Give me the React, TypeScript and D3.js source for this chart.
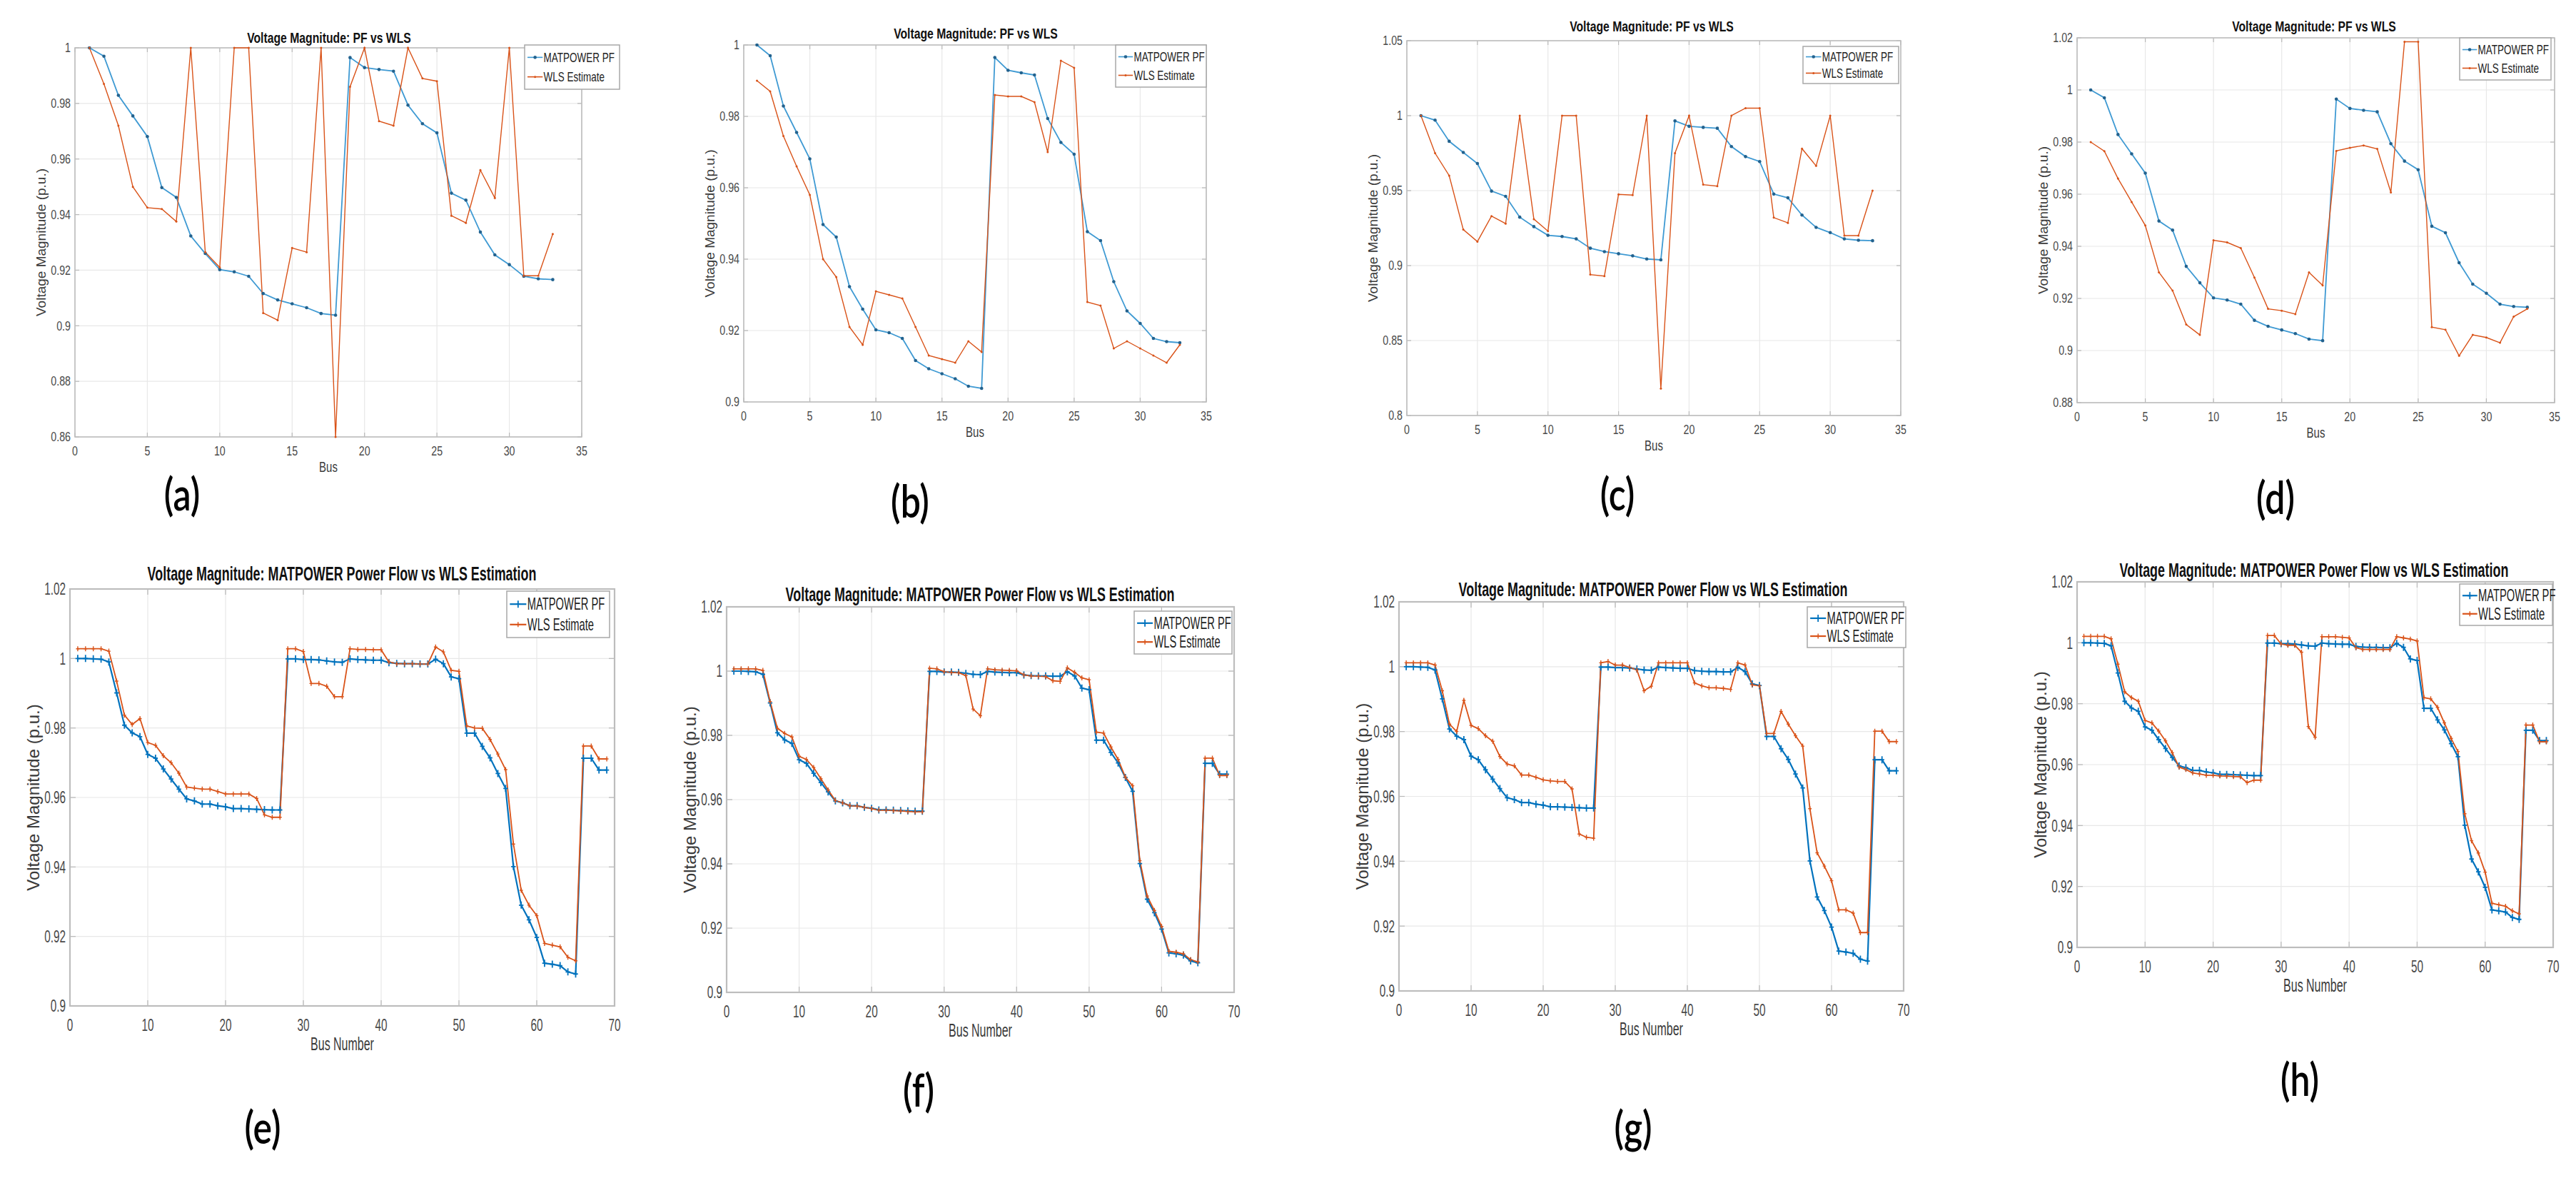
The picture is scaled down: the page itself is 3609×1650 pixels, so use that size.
import React from "react";
import * as d3 from "d3";

// ---------- DATA ----------
const pf33 = [1.0, 0.997, 0.9829, 0.9755, 0.9681, 0.9497, 0.9462, 0.9323, 0.926, 0.9202, 0.9194, 0.9178, 0.9116, 0.9093, 0.9079, 0.9065, 0.9044, 0.9038, 0.9965, 0.9929, 0.9922, 0.9916, 0.9794, 0.9727, 0.9694, 0.9477, 0.9452, 0.9337, 0.9255, 0.922, 0.9178, 0.9169, 0.9166];
const wlsA = [1.0, 0.987, 0.972, 0.95, 0.9425, 0.942, 0.9375, 1.0, 0.9265, 0.921, 1.0, 1.0, 0.9046, 0.902, 0.928, 0.9265, 1.0, 0.86, 0.986, 1.0, 0.9736, 0.972, 1.0, 0.989, 0.988, 0.9396, 0.937, 0.956, 0.946, 1.0, 0.918, 0.918, 0.933];
const wlsB = [0.99, 0.987, 0.9745, 0.966, 0.958, 0.94, 0.935, 0.921, 0.916, 0.931, 0.93, 0.929, 0.921, 0.913, 0.912, 0.911, 0.917, 0.914, 0.986, 0.9856, 0.9856, 0.984, 0.97, 0.9956, 0.9936, 0.928, 0.927, 0.915, 0.917, 0.915, 0.913, 0.911, 0.916];
const wlsC = [1.0, 0.975, 0.96, 0.924, 0.916, 0.933, 0.928, 1.0, 0.931, 0.923, 1.0, 1.0, 0.894, 0.893, 0.9475, 0.947, 1.0, 0.818, 0.975, 1.0, 0.954, 0.953, 1.0, 1.005, 1.005, 0.932, 0.9285, 0.978, 0.9665, 1.0, 0.92, 0.92, 0.95];
const wlsD = [0.98, 0.9765, 0.966, 0.957, 0.948, 0.93, 0.923, 0.91, 0.906, 0.9423, 0.9415, 0.9393, 0.928, 0.916, 0.9153, 0.914, 0.93, 0.925, 0.9766, 0.9778, 0.9787, 0.9774, 0.9607, 1.0185, 1.0185, 0.909, 0.908, 0.898, 0.906, 0.905, 0.903, 0.913, 0.916];

const pf69 = [1.0, 1.0, 0.9999, 0.9998, 0.999, 0.9901, 0.9808, 0.9786, 0.9775, 0.9724, 0.9713, 0.9682, 0.9653, 0.9624, 0.9596, 0.959, 0.9581, 0.9581, 0.9576, 0.9573, 0.9568, 0.9568, 0.9567, 0.9566, 0.9565, 0.9564, 0.9564, 0.9999, 0.9999, 0.9997, 0.9997, 0.9996, 0.9993, 0.999, 0.9989, 0.9999, 0.9997, 0.9996, 0.9995, 0.9995, 0.9988, 0.9986, 0.9985, 0.9985, 0.9984, 0.9984, 0.9998, 0.9985, 0.9947, 0.9942, 0.9785, 0.9785, 0.9747, 0.9714, 0.9669, 0.9626, 0.9401, 0.929, 0.9248, 0.9197, 0.9123, 0.912, 0.9116, 0.9098, 0.9092, 0.9713, 0.9713, 0.9679, 0.9679];
const wlsE = [1.0028, 1.0028, 1.0028, 1.0028, 1.0021, 0.9935, 0.9837, 0.981, 0.9827, 0.9758, 0.975, 0.972, 0.97, 0.967, 0.963, 0.9627, 0.9624, 0.9624, 0.9617, 0.961, 0.961, 0.961, 0.961, 0.9597, 0.955, 0.9543, 0.9543, 1.0028, 1.0028, 1.002, 0.9928, 0.9928, 0.992, 0.989, 0.989, 1.0028, 1.0026, 1.0026, 1.0025, 1.0025, 0.999, 0.9985, 0.9985, 0.9985, 0.9984, 0.9984, 1.0033, 1.0019, 0.9966, 0.9963, 0.9806, 0.98, 0.9799, 0.9767, 0.9725, 0.968, 0.9466, 0.9333, 0.929, 0.926, 0.918, 0.9175, 0.917, 0.914, 0.913, 0.9748, 0.9748, 0.9711, 0.9711];
const wlsF = [1.0007, 1.0007, 1.0007, 1.0007, 1.0002, 0.9905, 0.9822, 0.9806, 0.9795, 0.9735, 0.9725, 0.97, 0.9665, 0.963, 0.9597, 0.959, 0.9581, 0.958, 0.9576, 0.9572, 0.9567, 0.9567, 0.9566, 0.9565, 0.9563, 0.9562, 0.9562, 1.0009, 1.0007, 0.9998, 0.9996, 0.9995, 0.9986, 0.9882, 0.9861, 1.0007, 1.0004, 1.0003, 1.0002, 1.0001, 0.9988, 0.9985, 0.9984, 0.9983, 0.997, 0.9968, 1.001, 0.9996, 0.9979, 0.9973, 0.981, 0.9807, 0.9764, 0.9725, 0.967, 0.9643, 0.941, 0.93, 0.9255, 0.9205, 0.9128, 0.9125, 0.912, 0.9102, 0.9095, 0.9729, 0.9729, 0.9675, 0.9675];
const wlsG = [1.0012, 1.0012, 1.0012, 1.0012, 1.0005, 0.9926, 0.9823, 0.98, 0.9896, 0.9819, 0.9809, 0.9787, 0.977, 0.9723, 0.97, 0.9694, 0.9666, 0.9666, 0.9659, 0.9651, 0.9648, 0.9646, 0.9646, 0.9623, 0.9484, 0.9474, 0.9471, 1.0012, 1.0016, 1.0005, 1.0005, 0.9998, 0.999, 0.9926, 0.994, 1.0012, 1.0012, 1.0012, 1.0012, 1.0012, 0.995, 0.9941, 0.9935, 0.9935, 0.9933, 0.993, 1.0012, 1.0005, 0.9944, 0.9941, 0.9794, 0.9794, 0.9862, 0.9823, 0.9787, 0.9755, 0.9562, 0.9426, 0.9385, 0.934, 0.925, 0.925, 0.924, 0.918, 0.918, 0.9801, 0.9801, 0.9769, 0.9769];
const wlsH = [1.0021, 1.0021, 1.0021, 1.0021, 1.0013, 0.993, 0.9839, 0.982, 0.9808, 0.9745, 0.9737, 0.971, 0.9678, 0.9639, 0.9592, 0.9584, 0.9573, 0.9569, 0.9565, 0.9565, 0.9563, 0.9562, 0.9561, 0.956, 0.9541, 0.9549, 0.9549, 1.0024, 1.0024, 0.9996, 0.9992, 0.9992, 0.9969, 0.9725, 0.969, 1.002, 1.002, 1.002, 1.0018, 1.0016, 0.9984, 0.9978, 0.9978, 0.9978, 0.9978, 0.9978, 1.002, 1.0016, 1.0012, 1.0006, 0.982, 0.9816, 0.9788, 0.9737, 0.9686, 0.9643, 0.9439, 0.935, 0.931, 0.9247, 0.9145, 0.914, 0.9135, 0.912, 0.911, 0.973, 0.973, 0.9675, 0.9675];

const yTicksA = [0.86, 0.88, 0.9, 0.92, 0.94, 0.96, 0.98, 1];
const yTicksB = [0.9, 0.92, 0.94, 0.96, 0.98, 1];
const yTicksC = [0.8, 0.85, 0.9, 0.95, 1, 1.05];
const yTicksD = [0.88, 0.9, 0.92, 0.94, 0.96, 0.98, 1, 1.02];
const yTicksBottom = [0.9, 0.92, 0.94, 0.96, 0.98, 1, 1.02];
const xTicksTop = [0, 5, 10, 15, 20, 25, 30, 35];
const xTicksBottom = [0, 10, 20, 30, 40, 50, 60, 70];

const titleTop = "Voltage Magnitude: PF vs WLS";
const titleBottom = "Voltage Magnitude: MATPOWER Power Flow vs WLS Estimation";
const legendNames = ["MATPOWER PF", "WLS Estimate"];
const panelLetters = ["(a)", "(b)", "(c)", "(d)", "(e)", "(f)", "(g)", "(h)"];

// ---------- LAYOUT ----------
type Cfg = {
  id: string; pf: number[]; wls: number[]; yDomain: [number, number]; yTicks: number[];
  xMax: number; xTicks: number[]; title: string; xlabel: string; top: boolean;
  left: number; right: number; topY: number; bottom: number;
  titleX: number; titleY: number; legend: [number, number, number, number];
  letter: string; letterX: number; letterY: number;
};

const panels: Cfg[] = [
  { id: "a", pf: pf33, wls: wlsA, yDomain: [0.86, 1], yTicks: yTicksA, xMax: 35, xTicks: xTicksTop, title: titleTop, xlabel: "Bus", top: true,
    left: 105, right: 815, topY: 67, bottom: 612, titleX: 461, titleY: 53, legend: [735, 63, 868, 125], letter: panelLetters[0], letterX: 255, letterY: 690 },
  { id: "b", pf: pf33, wls: wlsB, yDomain: [0.9, 1], yTicks: yTicksB, xMax: 35, xTicks: xTicksTop, title: titleTop, xlabel: "Bus", top: true,
    left: 1042, right: 1690, topY: 63, bottom: 563, titleX: 1367, titleY: 47, legend: [1563, 63, 1690, 122], letter: panelLetters[1], letterX: 1275, letterY: 700 },
  { id: "c", pf: pf33, wls: wlsC, yDomain: [0.8, 1.05], yTicks: yTicksC, xMax: 35, xTicks: xTicksTop, title: titleTop, xlabel: "Bus", top: true,
    left: 1971, right: 2663, topY: 57, bottom: 582, titleX: 2314, titleY: 37, legend: [2526, 65, 2660, 117], letter: panelLetters[2], letterX: 2266, letterY: 690 },
  { id: "d", pf: pf33, wls: wlsD, yDomain: [0.88, 1.02], yTicks: yTicksD, xMax: 35, xTicks: xTicksTop, title: titleTop, xlabel: "Bus", top: true,
    left: 2910, right: 3579, topY: 53, bottom: 564, titleX: 3242, titleY: 37, legend: [3446, 53, 3574, 112], letter: panelLetters[3], letterX: 3188, letterY: 695 },
  { id: "e", pf: pf69, wls: wlsE, yDomain: [0.9, 1.02], yTicks: yTicksBottom, xMax: 70, xTicks: xTicksBottom, title: titleBottom, xlabel: "Bus Number", top: false,
    left: 98, right: 861, topY: 825, bottom: 1409, titleX: 479, titleY: 803, legend: [710, 828, 854, 893], letter: panelLetters[4], letterX: 368, letterY: 1577 },
  { id: "f", pf: pf69, wls: wlsF, yDomain: [0.9, 1.02], yTicks: yTicksBottom, xMax: 70, xTicks: xTicksBottom, title: titleBottom, xlabel: "Bus Number", top: false,
    left: 1018, right: 1729, topY: 850, bottom: 1390, titleX: 1373, titleY: 832, legend: [1589, 856, 1726, 916], letter: panelLetters[5], letterX: 1287, letterY: 1525 },
  { id: "g", pf: pf69, wls: wlsG, yDomain: [0.9, 1.02], yTicks: yTicksBottom, xMax: 70, xTicks: xTicksBottom, title: titleBottom, xlabel: "Bus Number", top: false,
    left: 1960, right: 2667, topY: 843, bottom: 1388, titleX: 2316, titleY: 825, legend: [2532, 850, 2670, 907], letter: panelLetters[6], letterX: 2288, letterY: 1577 },
  { id: "h", pf: pf69, wls: wlsH, yDomain: [0.9, 1.02], yTicks: yTicksBottom, xMax: 70, xTicks: xTicksBottom, title: titleBottom, xlabel: "Bus Number", top: false,
    left: 2910, right: 3577, topY: 815, bottom: 1327, titleX: 3242, titleY: 798, legend: [3446, 818, 3576, 876], letter: panelLetters[7], letterX: 3222, letterY: 1510 },
];

const FONT = "'Liberation Sans', Arial, Helvetica, sans-serif";
const BLUE_TOP = "#3f9ad3";
const BLUE_TOP_MK = "#23628e";
const BLUE = "#0072BD";
const ORANGE = "#D95319";

const fmt = (v: number) => String(+v.toFixed(2));

function SText(props: {
  x: number; y: number; sx: number; size: number; anchor?: string; weight?: string | number;
  rotate?: number; fill?: string; children: React.ReactNode; family?: string;
}) {
  const { x, y, sx, size, anchor = "middle", weight = "normal", rotate, fill = "#333", children, family = FONT } = props;
  return (
    <text
      transform={`translate(${x},${y}) scale(${sx},1)${rotate ? ` rotate(${rotate})` : ""}`}
      fontSize={size}
      fontFamily={family}
      textAnchor={anchor as any}
      fontWeight={weight as any}
      dominantBaseline="central"
      fill={fill}
    >
      {children}
    </text>
  );
}

function Plus({ x, y, h, v, color, w }: { x: number; y: number; h: number; v: number; color: string; w: number }) {
  return (
    <path d={`M${x - h},${y}H${x + h}M${x},${y - v}V${y + v}`} stroke={color} strokeWidth={w} fill="none" />
  );
}

function Panel({ c }: { c: Cfg }) {
  const sx = c.top ? 0.75 : 0.64;
  const fs = c.top
    ? { title: 21, tick: 19, label: 20, ylabel: 19, legend: 18 }
    : { title: 28, tick: 24, label: 25, ylabel: 24, legend: 23 };
  const x = d3.scaleLinear().domain([0, c.xMax]).range([c.left, c.right]);
  const y = d3.scaleLinear().domain(c.yDomain).range([c.bottom, c.topY]);
  const line = d3.line<number>().x((_, i) => x(i + 1)).y((d) => y(d));
  const tickLen = c.top ? 6 : 8;
  const blue = c.top ? BLUE_TOP : BLUE;
  const clipId = `clip-${c.id}`;
  const [lx0, ly0, lx1, ly1] = c.legend;
  const lw = lx1 - lx0;
  const lh = ly1 - ly0;
  const entryY = [ly0 + lh * 0.28, ly0 + lh * 0.72];
  const sampleX0 = lx0 + lw * 0.03;
  const sampleX1 = lx0 + lw * 0.19;

  return (
    <g>
      <defs>
        <clipPath id={clipId}>
          <rect x={c.left} y={c.topY - 2} width={c.right - c.left} height={c.bottom - c.topY + 4} />
        </clipPath>
      </defs>
      {/* grid */}
      {c.xTicks.map((t) => (
        <line key={`gx${t}`} x1={x(t)} x2={x(t)} y1={c.topY} y2={c.bottom} stroke="#e8e8e8" strokeWidth={1.2} />
      ))}
      {c.yTicks.map((t) => (
        <line key={`gy${t}`} x1={c.left} x2={c.right} y1={y(t)} y2={y(t)} stroke="#e8e8e8" strokeWidth={1.2} />
      ))}
      {/* ticks */}
      {c.xTicks.map((t) => (
        <g key={`tx${t}`}>
          <line x1={x(t)} x2={x(t)} y1={c.bottom} y2={c.bottom - tickLen} stroke="#b8b8b8" strokeWidth={1.2} />
          <line x1={x(t)} x2={x(t)} y1={c.topY} y2={c.topY + tickLen} stroke="#b8b8b8" strokeWidth={1.2} />
        </g>
      ))}
      {c.yTicks.map((t) => (
        <g key={`ty${t}`}>
          <line x1={c.left} x2={c.left + tickLen} y1={y(t)} y2={y(t)} stroke="#b8b8b8" strokeWidth={1.2} />
          <line x1={c.right} x2={c.right - tickLen} y1={y(t)} y2={y(t)} stroke="#b8b8b8" strokeWidth={1.2} />
        </g>
      ))}
      {/* box */}
      <rect x={c.left} y={c.topY} width={c.right - c.left} height={c.bottom - c.topY} fill="none" stroke="#bdbdbd" strokeWidth={c.top ? 1.6 : 2.2} />
      {/* tick labels */}
      {c.xTicks.map((t) => (
        <SText key={`lx${t}`} x={x(t)} y={c.bottom + (c.top ? 20 : 27)} sx={sx} size={fs.tick} fill="#4a4a4a">
          {fmt(t)}
        </SText>
      ))}
      {c.yTicks.map((t) => (
        <SText key={`ly${t}`} x={c.left - 6} y={y(t)} sx={sx} size={fs.tick} anchor="end" fill="#4a4a4a">
          {fmt(t)}
        </SText>
      ))}
      {/* axis labels */}
      <SText x={(c.left + c.right) / 2} y={c.bottom + (c.top ? 42 : 53)} sx={sx} size={fs.label} fill="#3a3a3a">
        {c.xlabel}
      </SText>
      <SText x={c.left - (c.top ? 48 : 52)} y={(c.topY + c.bottom) / 2} sx={1} size={fs.ylabel} rotate={-90} fill="#3a3a3a">
        Voltage Magnitude (p.u.)
      </SText>
      {/* title */}
      <SText x={c.titleX} y={c.titleY} sx={sx} size={fs.title} weight="bold" fill="#111">
        {c.title}
      </SText>
      {/* series */}
      <g clipPath={`url(#${clipId})`}>
        <path d={line(c.pf) || ""} fill="none" stroke={blue} strokeWidth={c.top ? 1.8 : 2.2} />
        <path d={line(c.wls) || ""} fill="none" stroke={ORANGE} strokeWidth={c.top ? 1.4 : 1.8} />
        {c.top
          ? c.pf.map((d, i) => <circle key={`pm${i}`} cx={x(i + 1)} cy={y(d)} r={2.3} fill={BLUE_TOP_MK} />)
          : c.pf.map((d, i) => <Plus key={`pm${i}`} x={x(i + 1)} y={y(d)} h={3.2} v={5} color={BLUE} w={1.8} />)}
        {c.top
          ? c.wls.map((d, i) => <circle key={`wm${i}`} cx={x(i + 1)} cy={y(d)} r={1.5} fill={ORANGE} />)
          : c.wls.map((d, i) => <Plus key={`wm${i}`} x={x(i + 1)} y={y(d)} h={2.4} v={3.5} color={ORANGE} w={1.4} />)}
      </g>
      {/* legend */}
      <rect x={lx0} y={ly0} width={lw} height={lh} fill="#fff" stroke="#a8a8a8" strokeWidth={1.5} />
      {[0, 1].map((k) => {
        const col = k === 0 ? blue : ORANGE;
        const mx = (sampleX0 + sampleX1) / 2;
        return (
          <g key={`lg${k}`}>
            <line x1={sampleX0} x2={sampleX1} y1={entryY[k]} y2={entryY[k]} stroke={col} strokeWidth={c.top ? 1.6 : 2.2} />
            {c.top ? (
              <circle cx={mx} cy={entryY[k]} r={k === 0 ? 2.3 : 1.5} fill={k === 0 ? BLUE_TOP_MK : ORANGE} />
            ) : (
              <Plus x={mx} y={entryY[k]} h={k === 0 ? 3.2 : 2.4} v={k === 0 ? 5 : 3.5} color={col} w={k === 0 ? 1.8 : 1.4} />
            )}
            <SText x={lx0 + lw * 0.2} y={entryY[k]} sx={sx} size={fs.legend} anchor="start" fill="#222">
              {legendNames[k]}
            </SText>
          </g>
        );
      })}
      {/* panel letter */}
      <SText x={c.letterX} y={c.letterY} sx={0.78} size={64} family="Lato, 'Open Sans', sans-serif" weight={600} fill="#000">
        {c.letter}
      </SText>
    </g>
  );
}

export default function App() {
  return (
    <svg
      width={3609}
      height={1650}
      viewBox="0 0 3609 1650"
      style={{ position: "absolute", left: 0, top: 0, background: "#fff" }}
    >
      <rect x={0} y={0} width={3609} height={1650} fill="#fff" />
      {panels.map((c) => (
        <Panel key={c.id} c={c} />
      ))}
    </svg>
  );
}
